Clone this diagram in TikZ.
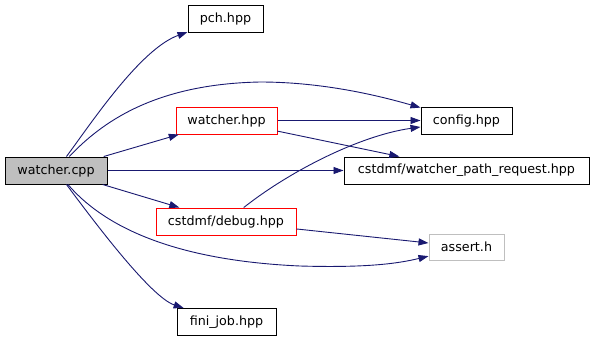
\documentclass[tikz,border=0pt]{standalone}
\usepackage{fontspec}
\setmainfont{DejaVu Sans}
\usetikzlibrary{arrows.meta}
\definecolor{edgeblue}{HTML}{191970}
\definecolor{filegray}{HTML}{BFBFBF}
\begin{document}
\begin{tikzpicture}[x=1pt,y=-1pt,
  file/.style={draw=black,line width=1pt,minimum height=27pt,inner sep=0pt,
    font=\fontsize{12.7}{14}\selectfont},
  redfile/.style={file,draw=red},
  sysfile/.style={file,draw=filegray},
  dep/.style={draw=edgeblue,line width=0.9pt,
    -{Triangle[length=10pt,width=7pt]}}]
  \useasboundingbox (0,0) rectangle (594,341);
  \node[file,fill=filegray,minimum width=102pt] (cpp) at (56,170.5) {watcher.cpp};
  \node[file,minimum width=75pt] (pch) at (225.5,18.5) {pch.hpp};
  \node[redfile,minimum width=101pt] (whpp) at (226.5,120.5) {watcher.hpp};
  \node[redfile,minimum width=140pt] (debug) at (226,221.5) {cstdmf/debug.hpp};
  \node[file,minimum width=99pt] (fini) at (226.5,322) {fini\_job.hpp};
  \node[file,minimum width=91pt] (config) at (466.5,120.5) {config.hpp};
  \node[file,minimum width=245pt] (wpr) at (466.5,170.5) {cstdmf/watcher\_path\_request.hpp};
  \node[sysfile,minimum width=75pt,minimum height=26pt] (assert) at (466.5,247) {assert.h};
  \coordinate (top) at (260,82);
  \coordinate (bottom) at (300,266);
  % includes of watcher.cpp
  \draw[dep] (cpp) .. controls (90,125) and (140,49) .. (pch);
  \draw[dep] (cpp) .. controls (102,122) and (155,84) .. (top)
    .. controls (330,82) and (390,99) .. (config);
  \draw[dep] (cpp) -- (whpp);
  \draw[dep] (cpp) -- (wpr);
  \draw[dep] (cpp) -- (debug);
  \draw[dep] (cpp) .. controls (100,222) and (165,260) .. (bottom)
    .. controls (370,268) and (400,263) .. (assert);
  \draw[dep] (cpp) .. controls (90,216) and (150,297) .. (fini);
  % second level
  \draw[dep] (whpp) -- (config);
  \draw[dep] (whpp) -- (wpr);
  \draw[dep] (debug) .. controls (290,171) and (360,135.5) .. (config);
  \draw[dep] (debug) -- (assert);
\end{tikzpicture}
\end{document}
